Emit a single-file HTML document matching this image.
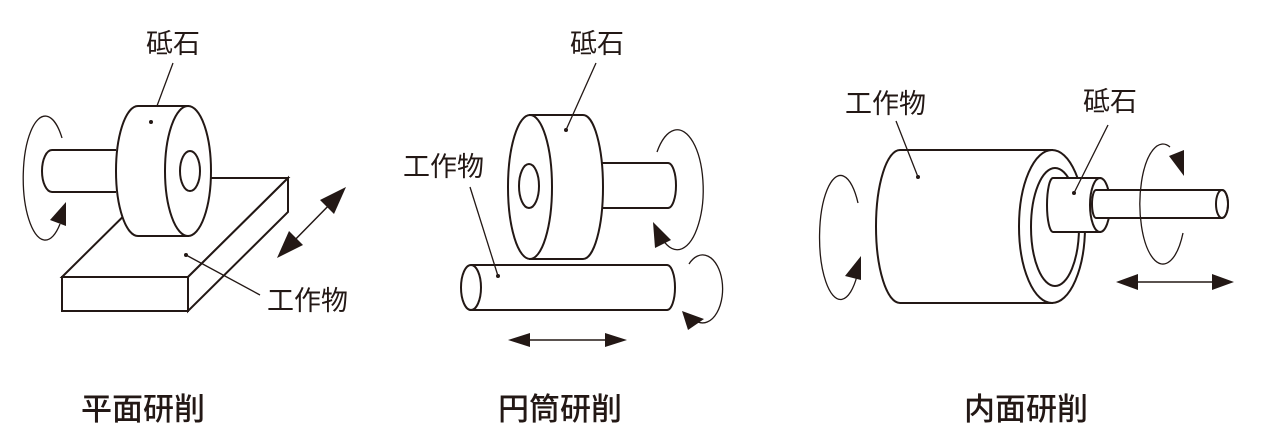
<!DOCTYPE html>
<html><head><meta charset="utf-8"><style>
html,body{margin:0;padding:0;background:#fff}
svg{display:block}
text{font-family:"Liberation Sans","Noto Sans CJK JP",sans-serif;fill:#231815}
.l{font-size:27px}
.b{font-size:31px;font-weight:500}
</style></head><body>
<svg width="1265" height="445" viewBox="0 0 1265 445" xmlns="http://www.w3.org/2000/svg" fill="none" stroke="#231815" stroke-width="2">
<!-- Panel 1 -->
<text class="l" x="146" y="53" stroke="none">砥石</text>
<line x1="173" y1="63" x2="151" y2="122" stroke-width="1.3"/>
<polygon points="62,277 188,277 188,311 62,311" fill="#fff"/>
<polygon points="62,277 162,178 288,178 188,277" fill="#fff"/>
<polygon points="188,277 288,178 288,212 188,311" fill="#fff"/>
<path d="M116,150 H52 A10,21 0 0 0 52,192 H116" fill="#fff"/>
<path d="M138,106 H188 V236 H138 A22,65 0 0 1 138,106 Z" fill="#fff"/>
<ellipse cx="188" cy="171" rx="23" ry="65" fill="#fff"/>
<ellipse cx="190" cy="171" rx="10" ry="20"/>
<circle cx="151" cy="122" r="2" fill="#231815" stroke="none"/>
<path d="M62,138 A22,62 0 1 0 60,224" stroke-width="1.3"/>
<polygon points="66,202 66,226 50,220" fill="#231815" stroke="none"/>
<line x1="285" y1="250" x2="338" y2="196" stroke-width="1.5"/>
<polygon points="346,187 334,214 320,200" fill="#231815" stroke="none"/>
<polygon points="277,258 289,231 303,245" fill="#231815" stroke="none"/>
<line x1="186" y1="255" x2="260" y2="295" stroke-width="1.3"/>
<circle cx="186" cy="255" r="2" fill="#231815" stroke="none"/>
<text class="l" x="267" y="310" stroke="none">工作物</text>
<text class="b" x="81" y="420" stroke="none">平面研削</text>

<!-- Panel 2 -->
<text class="l" x="570" y="53" stroke="none">砥石</text>
<path d="M600,163 H668 A8,22.5 0 0 1 668,208 H600" fill="#fff"/>
<path d="M530,115 H583 A20,72 0 0 1 583,259 H530 Z" fill="#fff"/>
<ellipse cx="530" cy="187" rx="22" ry="72" fill="#fff"/>
<ellipse cx="529" cy="186" rx="10" ry="22"/>
<line x1="596" y1="63" x2="566" y2="130" stroke-width="1.3"/>
<circle cx="566" cy="130" r="2" fill="#231815" stroke="none"/>
<path d="M657,152 A26,60 0 1 1 663,240" stroke-width="1.3"/>
<polygon points="653,222 671,240 655,248" fill="#231815" stroke="none"/>
<path d="M471,265 H667 A8,22.5 0 0 1 667,310 H471" fill="#fff"/>
<ellipse cx="471" cy="287.5" rx="10" ry="22.5" fill="#fff"/>
<line x1="470" y1="187" x2="498" y2="276" stroke-width="1.3"/>
<circle cx="498" cy="276" r="2" fill="#231815" stroke="none"/>
<text class="l" x="403" y="176" stroke="none">工作物</text>
<path d="M689,264 A20,34 0 1 1 698,322" stroke-width="1.3"/>
<polygon points="682,311 704,319 688,330" fill="#231815" stroke="none"/>
<line x1="520" y1="340" x2="615" y2="340" stroke-width="1.5"/>
<polygon points="508,340 530,333 530,347" fill="#231815" stroke="none"/>
<polygon points="627,340 605,333 605,347" fill="#231815" stroke="none"/>
<text class="b" x="498" y="420" stroke="none">円筒研削</text>

<!-- Panel 3 -->
<text class="l" x="845" y="113" stroke="none">工作物</text>
<text class="l" x="1083" y="111" stroke="none">砥石</text>
<path d="M858,203 A21,62 0 1 0 857,276" stroke-width="1.3"/>
<polygon points="861,256 861,280 845,276" fill="#231815" stroke="none"/>
<path d="M900,150 H1052 V303 H900 A24,76.5 0 0 1 900,150 Z" fill="#fff"/>
<ellipse cx="1052" cy="226.5" rx="33" ry="76.5" fill="#fff"/>
<ellipse cx="1055" cy="227" rx="24" ry="59"/>
<path d="M1053,178 H1100 V232 H1053 A6,27 0 0 1 1053,178 Z" fill="#fff"/>
<ellipse cx="1100" cy="205" rx="10" ry="27" fill="#fff"/>
<path d="M1096,190 H1222 A6,14 0 0 1 1222,218 H1096 A4,14 0 0 1 1096,190 Z" fill="#fff"/>
<ellipse cx="1222" cy="204" rx="6" ry="14"/>
<line x1="896" y1="121" x2="918" y2="177" stroke-width="1.3"/>
<circle cx="918" cy="177" r="2" fill="#231815" stroke="none"/>
<line x1="1108" y1="125" x2="1074" y2="193" stroke-width="1.3"/>
<circle cx="1074" cy="193" r="2" fill="#231815" stroke="none"/>
<path d="M1170,147 A23,60 0 1 0 1183,233" stroke-width="1.3"/>
<polygon points="1169,156 1184,150 1184,176" fill="#231815" stroke="none"/>
<line x1="1128" y1="282" x2="1222" y2="282" stroke-width="1.5"/>
<polygon points="1116,282 1138,274 1138,290" fill="#231815" stroke="none"/>
<polygon points="1234,282 1212,274 1212,290" fill="#231815" stroke="none"/>
<text class="b" x="964" y="420" stroke="none">内面研削</text>
</svg>
</body></html>
